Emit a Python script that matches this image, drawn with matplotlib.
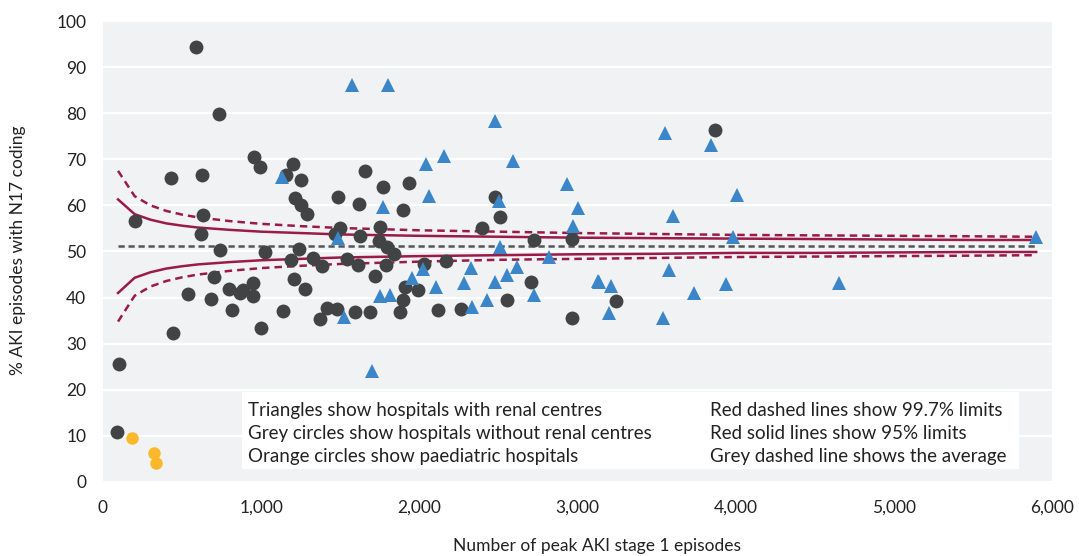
import matplotlib
matplotlib.use("Agg")
import matplotlib.pyplot as plt
from matplotlib.patches import Rectangle

plt.rcParams['font.family'] = ['Lato', 'DejaVu Sans']

# hospitals with renal centres (triangles)
renal_n = [1576, 1804, 2481, 1703, 1133, 1487, 1521, 2040, 2156, 2595, 2935, 3004, 2973,
           2061, 1770, 2504, 2511, 2819, 2023, 2329, 2618, 2557, 1956, 2104, 2281, 2477,
           2430, 2724, 2333, 1749, 1812, 3128, 3555, 3846, 4006, 3601, 3981, 3580, 3139,
           3211, 3736, 3939, 4652, 3200, 3542, 5901]
renal_pct = [86.1, 86.1, 78.3, 24.1, 66.2, 52.9, 35.9, 69.0, 70.8, 69.6, 64.6, 59.4, 55.6,
             62.1, 59.7, 61.0, 51.0, 48.9, 46.2, 46.4, 46.6, 44.9, 44.3, 42.3, 43.2, 43.3,
             39.5, 40.6, 38.0, 40.4, 40.5, 43.5, 75.6, 73.2, 62.2, 57.8, 53.2, 46.0, 43.4,
             42.5, 41.1, 42.9, 43.2, 36.7, 35.5, 53.1]

# hospitals without renal centres (grey circles)
nonrenal_n = [101, 89, 203, 591, 734, 954, 992, 1203, 1154, 1255, 428, 625, 1217, 1253,
              1291, 1487, 633, 622, 739, 1023, 1239, 1186, 1325, 1384, 1542, 703, 540,
              682, 799, 867, 884, 948, 948, 816, 445, 1000, 1135, 1209, 1278, 1416, 1480,
              1369, 1500, 1468, 1658, 1768, 1935, 1618, 1899, 2479, 2511, 1753, 1628, 2394,
              2722, 2965, 1742, 1795, 1837, 1610, 1789, 2027, 2167, 1717, 1909, 1992, 1899,
              1880, 1591, 1690, 2120, 2261, 2553, 2709, 2966, 3869, 3243]
nonrenal_pct = [25.7, 10.8, 56.6, 94.3, 79.9, 70.6, 68.3, 68.9, 66.5, 65.5, 65.9, 66.7, 61.6,
                60.0, 58.1, 61.9, 57.9, 53.7, 50.4, 49.8, 50.5, 48.2, 48.5, 46.9, 48.4, 44.4,
                40.8, 39.6, 41.9, 41.1, 41.6, 43.2, 40.3, 37.3, 32.4, 33.3, 37.2, 44.0, 41.9,
                37.8, 37.5, 35.3, 55.0, 53.8, 67.4, 63.9, 64.8, 60.3, 58.9, 61.8, 57.5, 55.3,
                53.3, 55.1, 52.4, 52.8, 52.2, 51.0, 49.5, 47.1, 47.1, 47.3, 47.9, 44.7, 42.3,
                41.6, 39.4, 36.9, 36.9, 36.9, 37.4, 37.5, 39.5, 43.3, 35.6, 76.3, 39.3]

# paediatric hospitals (orange circles)
paed_n = [184, 324, 337]
paed_pct = [9.6, 6.3, 4.1]

# funnel limits
limit_n = [95, 200, 300, 400, 500, 600, 800, 1000, 1250, 1500, 2000, 2500, 3000, 3500,
           4000, 4500, 5000, 5500, 5900]
average = 51.2
upper95 = [61.3, 58.1, 56.9, 56.1, 55.6, 55.2, 54.7, 54.3, 54.0, 53.7, 53.4, 53.2, 53.0,
           52.9, 52.8, 52.7, 52.6, 52.5, 52.5]
lower95 = [41.0, 44.3, 45.5, 46.3, 46.8, 47.2, 47.7, 48.1, 48.4, 48.7, 49.0, 49.2, 49.4,
           49.5, 49.7, 49.7, 49.8, 49.9, 49.9]
upper997 = [67.5, 62.0, 60.0, 58.8, 58.0, 57.4, 56.6, 56.0, 55.5, 55.1, 54.6, 54.3, 54.0,
            53.8, 53.6, 53.5, 53.4, 53.3, 53.2]
lower997 = [34.8, 40.4, 42.4, 43.6, 44.4, 45.0, 45.8, 46.4, 46.9, 47.3, 47.8, 48.2, 48.4,
            48.6, 48.8, 48.9, 49.0, 49.1, 49.2]

red = '#9b1b48'
fig = plt.figure(figsize=(10.79, 5.56), dpi=100)
ax = fig.add_axes([103 / 1079, 1 - 482 / 556, 949 / 1079, 461 / 556])
ax.set_facecolor('#f1f2f4')
ax.set_xlim(0, 6000)
ax.set_ylim(0, 100)
ax.set_yticks(range(0, 101, 10))
ax.set_xticks(range(0, 6001, 1000))
ax.set_xticklabels(['0', '1,000', '2,000', '3,000', '4,000', '5,000', '6,000'])
ax.yaxis.grid(True, color='white', lw=1.6, zorder=0)
ax.set_axisbelow(True)
for s in ax.spines.values():
    s.set_visible(False)
ax.tick_params(axis='y', length=0, pad=12, labelsize=12.5, labelcolor='#222222')
ax.tick_params(axis='x', length=0, pad=13, labelsize=12.5, labelcolor='#222222')

ax.add_patch(Rectangle((880, 2.8), 4911, 16.7, facecolor='white', edgecolor='none', zorder=1))

ax.plot(limit_n, upper997, color=red, lw=1.8, ls=(0, (3, 2)), zorder=2)
ax.plot(limit_n, lower997, color=red, lw=1.8, ls=(0, (3, 2)), zorder=2)
ax.plot(limit_n, upper95, color=red, lw=1.8, zorder=2)
ax.plot(limit_n, lower95, color=red, lw=1.8, zorder=2)
ax.plot([limit_n[0], limit_n[-1]], [average, average], color='#555555', lw=1.8,
        ls=(0, (2.5, 1.5)), zorder=2)

ax.plot(nonrenal_n, nonrenal_pct, 'o', color='#414345', ms=10, mew=0, zorder=3)
ax.plot(renal_n, renal_pct, '^', color='#3a86c8', ms=10, mew=0, zorder=4)
ax.plot(paed_n, paed_pct, 'o', color='#fbb82a', ms=9, mew=0, zorder=3)

legend_left = ['Triangles show hospitals with renal centres',
               'Grey circles show hospitals without renal centres',
               'Orange circles show paediatric hospitals']
legend_right = ['Red dashed lines show 99.7% limits',
                'Red solid lines show 95% limits',
                'Grey dashed line shows the average']
for i, (a, b) in enumerate(zip(legend_left, legend_right)):
    y = 15.6 - i * 5.0
    ax.text(918, y, a, fontsize=13.5, va='center', color='#222222', zorder=5)
    ax.text(3835, y, b, fontsize=13.5, va='center', color='#222222', zorder=5)

fig.text(597 / 1079, 1 - 546 / 556, 'Number of peak AKI stage 1 episodes', ha='center',
         va='center', fontsize=12.5, color='#222222')
fig.text(18 / 1079, 1 - 250 / 556, '% AKI episodes with N17 coding', ha='center',
         va='center', rotation=90, fontsize=12.5, color='#222222')

fig.savefig('out.png', dpi=100, facecolor='white')
